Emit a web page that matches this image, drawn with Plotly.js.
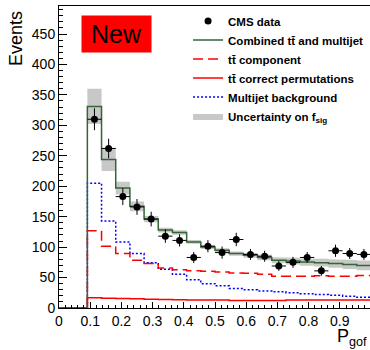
<!DOCTYPE html>
<html><head><meta charset="utf-8">
<script src="https://cdn.plot.ly/plotly-3.0.1.min.js"></script>
<style>html,body{margin:0;padding:0;background:#fff}</style>
</head><body><div id="chart" style="width:370px;height:350px"></div>
<script>
// 22 bins of width 1/22 on P_gof in [0,1]
const binEdges = [0, 0.04545, 0.09091, 0.13636, 0.18182, 0.22727, 0.27273, 0.31818, 0.36364, 0.40909, 0.45455, 0.5, 0.54545, 0.59091, 0.63636, 0.68182, 0.72727, 0.77273, 0.81818, 0.86364, 0.90909, 0.95455, 1.0];
const firstFilledBin = 2;
// CMS data (bins 2..21)
const dataCounts = [310, 262, 183, 166, 146, 118, 111, 83, 101.5, 91, 112.5, 88, 85, 69, 75, 83, 61, 94, 89.5, 88];
const dataErrors = [18, 16, 14, 13, 12, 11, 10, 9, 10, 10, 11, 9, 9, 8, 9, 9, 8, 10, 9, 9];
// templates (bins 0..21)
const combined = [0, 0, 331, 244, 197, 167, 146, 128, 124, 108.5, 100, 95, 89.5, 86.5, 83, 78.5, 77, 75.5, 74.5, 73, 71.5, 70];
const ttComponent = [0, 0, 127, 101.5, 89.5, 78.5, 73, 65.5, 63, 61, 60.5, 59, 57.5, 57, 55.5, 52, 52, 52, 53, 52, 52, 53.5];
const ttCorrect = [0, 0, 17, 16, 15.5, 15, 14.5, 14, 13.5, 13, 13, 13, 12.5, 12.5, 12.5, 12.5, 13, 13, 13, 13, 13, 13];
const multijet = [0, 0, 205, 143, 108.5, 89.5, 74.5, 63.5, 55.5, 46.5, 40, 36.5, 32, 30, 28, 26.5, 25, 23.5, 22, 21, 19.5, 17.5];
// half-width of uncertainty band on f_sig (bins 2..21)
const fsigUnc = [29, 19, 10.5, 8, 5, 4, 3.5, 3, 3, 3, 3.5, 4, 4.5, 5, 5.5, 6, 6.5, 7, 7.5, 8];
const legendNames = ['CMS data', 'Combined tt\u0304 and multijet', 'tt\u0304 component', 'tt\u0304 correct permutations', 'Multijet background', 'Uncertainty on f<sub>sig</sub>'];

function stepY(arr){ return arr.concat([arr[arr.length-1]]); }
const centers = [];
for (let i = firstFilledBin; i < binEdges.length-1; i++) centers.push((binEdges[i]+binEdges[i+1])/2);

// band polygon
const bx = [], by = [];
for (let k = 0; k < fsigUnc.length; k++) {
  const i = k + firstFilledBin;
  bx.push(binEdges[i], binEdges[i+1]);
  by.push(combined[i] + fsigUnc[k], combined[i] + fsigUnc[k]);
}
for (let k = fsigUnc.length-1; k >= 0; k--) {
  const i = k + firstFilledBin;
  bx.push(binEdges[i+1], binEdges[i]);
  by.push(combined[i] - fsigUnc[k], combined[i] - fsigUnc[k]);
}

const traces = [
  {type:'scatter', mode:'lines', x:bx, y:by, fill:'toself', fillcolor:'#c8c8c8', line:{width:0, color:'#c8c8c8'},
   name:legendNames[5], legendrank:6, hoverinfo:'skip'},
  {type:'scatter', mode:'lines', x:binEdges, y:stepY(multijet), line:{shape:'hv', color:'#0000ff', width:1.5, dash:'2px,2px'},
   name:legendNames[4], legendrank:5},
  {type:'scatter', mode:'lines', x:binEdges, y:stepY(ttComponent), line:{shape:'hv', color:'#ff0000', width:1.5, dash:'10px,5px'},
   name:legendNames[2], legendrank:3},
  {type:'scatter', mode:'lines', x:binEdges, y:stepY(ttCorrect), line:{shape:'hv', color:'#ff0000', width:1.5},
   name:legendNames[3], legendrank:4},
  {type:'scatter', mode:'lines', x:binEdges, y:stepY(combined), line:{shape:'hv', color:'#336633', width:1.5},
   name:legendNames[1], legendrank:2},
  {type:'scatter', mode:'markers', x:centers, y:dataCounts, marker:{color:'#000', size:7, symbol:'circle'},
   error_y:{type:'data', array:dataErrors, visible:true, color:'#000', thickness:1, width:0},
   error_x:{type:'constant', value:(binEdges[1]-binEdges[0])/2, visible:true, color:'#000', thickness:1, width:0},
   name:legendNames[0], legendrank:1}
];

const layout = {
  width:370, height:350,
  margin:{l:59, r:0, t:6, b:42},
  paper_bgcolor:'#fff', plot_bgcolor:'#fff',
  font:{family:'Liberation Sans, Arial, sans-serif', color:'#000', size:14},
  showlegend:true,
  legend:{x:0.415, y:0.998, xanchor:'left', yanchor:'top', bgcolor:'rgba(0,0,0,0)',
          font:{size:11.5, weight:'bold', color:'#000'}},
  xaxis:{range:[0, 0.9968], tick0:0, dtick:0.1, ticks:'inside', ticklen:6, tickcolor:'#000',
         showline:true, linecolor:'#000', linewidth:1, mirror:true, showgrid:false, zeroline:false,
         tickfont:{size:14}, minor:{dtick:0.02, ticks:'inside', ticklen:3, tickcolor:'#000', showgrid:false}},
  yaxis:{range:[0, 496], tick0:0, dtick:50, ticks:'inside', ticklen:8, tickcolor:'#000',
         showline:true, linecolor:'#000', linewidth:1, mirror:true, showgrid:false, zeroline:false,
         tickfont:{size:14}, minor:{dtick:10, ticks:'inside', ticklen:4, tickcolor:'#000', showgrid:false}},
  annotations:[
    {text:'Events', xref:'paper', yref:'paper', x:-0.138, y:0.891, textangle:-90, showarrow:false,
     font:{size:18, color:'#000'}, xanchor:'center', yanchor:'middle'},
    {text:'P<sub>gof</sub>', xref:'paper', yref:'paper', x:0.995, y:-0.056, showarrow:false, borderpad:0,
     font:{size:18, color:'#000'}, xanchor:'right', yanchor:'top'},
    {text:'New', xref:'paper', yref:'paper', x:0.1849, y:0.907, showarrow:false, bgcolor:'#ff0000',
     width:69, height:36, borderpad:0, font:{size:25, color:'#000'}, xanchor:'center', yanchor:'middle'}
  ]
};
Plotly.newPlot('chart', traces, layout, {displayModeBar:false, staticPlot:true});
</script></body></html>
